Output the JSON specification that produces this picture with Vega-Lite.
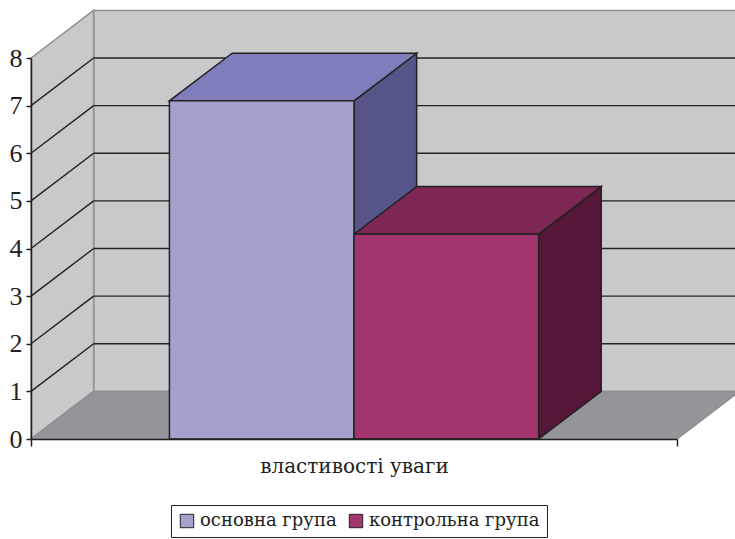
{
  "$schema": "https://vega.github.io/schema/vega-lite/v6.json",
  "width": 646,
  "height": 381,
  "autosize": {"type": "none"},
  "padding": {"left": 31, "top": 58, "right": 58, "bottom": 100},
  "background": "white",
  "datasets": {
    "bars": [
      {"group": "основна група", "value": 7.1},
      {"group": "контрольна група", "value": 4.3}
    ],
    "levels": [
      {"level": 1}, {"level": 2}, {"level": 3}, {"level": 4},
      {"level": 5}, {"level": 6}, {"level": 7}
    ]
  },
  "layer": [
    {
      "description": "back wall",
      "data": {"values": [{}]},
      "mark": {"type": "rect", "fill": "#C8C9CB", "stroke": "#8E8F91", "strokeWidth": 1.5},
      "encoding": {
        "x": {"datum": 0.097, "type": "quantitative", "scale": {"domain": [0, 1], "nice": false}, "title": "властивості уваги"},
        "x2": {"datum": 1.3},
        "y": {"datum": 1, "type": "quantitative", "scale": {"domain": [0, 8], "nice": false}, "title": null},
        "y2": {"datum": 9}
      }
    },
    {
      "description": "left side wall",
      "data": {"values": [{}]},
      "transform": [
        {"calculate": "[0, 1]", "as": "d"},
        {"flatten": ["d"]},
        {"calculate": "datum.d * 0.097", "as": "wx"},
        {"calculate": "8 + datum.d", "as": "wy"},
        {"calculate": "datum.d", "as": "wy2"}
      ],
      "mark": {"type": "area", "orient": "vertical", "fill": "#C8C9CB", "stroke": "#8E8F91", "strokeWidth": 1.5},
      "encoding": {
        "x": {"field": "wx", "type": "quantitative", "scale": {"domain": [0, 1], "nice": false}, "title": "властивості уваги"},
        "y": {"field": "wy", "type": "quantitative", "scale": {"domain": [0, 8], "nice": false}, "title": null},
        "y2": {"field": "wy2", "title": null}
      }
    },
    {
      "description": "floor",
      "data": {"values": [{}]},
      "transform": [
        {"calculate": "[0, 1]", "as": "d"},
        {"flatten": ["d"]},
        {"calculate": "datum.d * 0.097", "as": "fx"},
        {"calculate": "1 + datum.d * 0.097", "as": "fx2"},
        {"calculate": "datum.d", "as": "fy"}
      ],
      "mark": {"type": "area", "orient": "horizontal", "fill": "#949598", "stroke": "#8E8F91", "strokeWidth": 1.5},
      "encoding": {
        "y": {"field": "fy", "type": "quantitative", "scale": {"domain": [0, 8], "nice": false}, "title": null},
        "x": {"field": "fx", "type": "quantitative", "scale": {"domain": [0, 1], "nice": false}, "title": "властивості уваги"},
        "x2": {"field": "fx2", "title": "властивості уваги"}
      }
    },
    {
      "description": "gridlines on the back wall",
      "data": {"name": "levels"},
      "transform": [{"calculate": "datum.level + 1", "as": "yb"}],
      "mark": {"type": "rule", "stroke": "#222", "strokeWidth": 1.4},
      "encoding": {
        "x": {"datum": 0.097, "type": "quantitative", "scale": {"domain": [0, 1], "nice": false}, "title": "властивості уваги"},
        "x2": {"datum": 1.3},
        "y": {"field": "yb", "type": "quantitative", "scale": {"domain": [0, 8], "nice": false}, "title": null}
      }
    },
    {
      "description": "gridlines on the side wall",
      "data": {"name": "levels"},
      "transform": [{"calculate": "datum.level + 1", "as": "yb"}],
      "mark": {"type": "rule", "stroke": "#222", "strokeWidth": 1.4},
      "encoding": {
        "x": {"datum": 0, "type": "quantitative", "scale": {"domain": [0, 1], "nice": false}, "title": "властивості уваги"},
        "x2": {"datum": 0.097},
        "y": {"field": "level", "type": "quantitative", "scale": {"domain": [0, 8], "nice": false}, "title": null},
        "y2": {"field": "yb", "title": null}
      }
    },
    {
      "description": "right-hand faces of the columns",
      "data": {"name": "bars"},
      "transform": [
        {"window": [{"op": "row_number", "as": "i"}]},
        {"calculate": "(datum.i + 0.75) / 3.5", "as": "x1"},
        {"calculate": "[0, 1]", "as": "d"},
        {"flatten": ["d"]},
        {"calculate": "datum.x1 + datum.d * 0.097", "as": "sx"},
        {"calculate": "datum.value + datum.d", "as": "sy"},
        {"calculate": "datum.d", "as": "sy2"}
      ],
      "mark": {"type": "area", "orient": "vertical", "stroke": "#222", "strokeWidth": 1.5, "strokeJoin": "miter"},
      "encoding": {
        "x": {"field": "sx", "type": "quantitative", "scale": {"domain": [0, 1], "nice": false}, "title": "властивості уваги"},
        "y": {"field": "sy", "type": "quantitative", "scale": {"domain": [0, 8], "nice": false}, "title": null},
        "y2": {"field": "sy2", "title": null},
        "detail": {"field": "group"},
        "fill": {"condition": {"test": "datum.group === 'основна група'", "value": "#55558A"}, "value": "#561638"}
      }
    },
    {
      "description": "top faces of the columns",
      "data": {"name": "bars"},
      "transform": [
        {"window": [{"op": "row_number", "as": "i"}]},
        {"calculate": "(datum.i - 0.25) / 3.5", "as": "x0"},
        {"calculate": "(datum.i + 0.75) / 3.5", "as": "x1"},
        {"calculate": "[0, 1]", "as": "d"},
        {"flatten": ["d"]},
        {"calculate": "datum.x0 + datum.d * 0.097", "as": "tx"},
        {"calculate": "datum.x1 + datum.d * 0.097", "as": "tx2"},
        {"calculate": "datum.value + datum.d", "as": "ty"}
      ],
      "mark": {"type": "area", "orient": "horizontal", "stroke": "#222", "strokeWidth": 1.5, "strokeJoin": "miter"},
      "encoding": {
        "y": {"field": "ty", "type": "quantitative", "scale": {"domain": [0, 8], "nice": false}, "title": null},
        "x": {"field": "tx", "type": "quantitative", "scale": {"domain": [0, 1], "nice": false}, "title": "властивості уваги"},
        "x2": {"field": "tx2", "title": "властивості уваги"},
        "detail": {"field": "group"},
        "fill": {"condition": {"test": "datum.group === 'основна група'", "value": "#7F7EBD"}, "value": "#7E2754"}
      }
    },
    {
      "description": "front faces of the columns",
      "data": {"name": "bars"},
      "transform": [
        {"window": [{"op": "row_number", "as": "i"}]},
        {"calculate": "(datum.i - 0.25) / 3.5", "as": "x0"},
        {"calculate": "(datum.i + 0.75) / 3.5", "as": "x1"}
      ],
      "mark": {"type": "rect", "stroke": "#222", "strokeWidth": 1.5},
      "encoding": {
        "x": {
          "field": "x0", "type": "quantitative",
          "scale": {"domain": [0, 1], "nice": false},
          "title": "властивості уваги",
          "axis": {
            "title": "властивості уваги",
            "values": [0, 1],
            "labels": false,
            "grid": false,
            "tickSize": 7,
            "tickWidth": 1.5,
            "tickColor": "#222",
            "domainColor": "#222",
            "domainWidth": 1.5,
            "titleFont": "DejaVu Serif",
            "titleFontSize": 20,
            "titleFontWeight": "normal",
            "titleColor": "#222",
            "titlePadding": 10,
            "zindex": 1
          }
        },
        "x2": {"field": "x1", "title": "властивості уваги"},
        "y": {
          "field": "value", "type": "quantitative",
          "scale": {"domain": [0, 8], "nice": false},
          "title": null,
          "axis": {
            "title": null,
            "values": [0, 1, 2, 3, 4, 5, 6, 7, 8],
            "grid": false,
            "tickSize": 5,
            "tickWidth": 1.5,
            "tickColor": "#222",
            "domainColor": "#222",
            "domainWidth": 1.5,
            "labelFont": "Liberation Serif",
            "labelFontSize": 26,
            "labelColor": "#222",
            "labelPadding": 4,
            "zindex": 1
          }
        },
        "y2": {"datum": 0},
        "fill": {
          "field": "group", "type": "nominal",
          "scale": {"domain": ["основна група", "контрольна група"], "range": ["#A3A1CE", "#A3366F"]},
          "legend": {
            "title": null,
            "orient": "none",
            "legendX": 140,
            "legendY": 447,
            "direction": "horizontal",
            "strokeColor": "#222",
            "fillColor": "white",
            "padding": 7,
            "symbolType": "square",
            "symbolSize": 180,
            "symbolStrokeColor": "#222",
            "symbolStrokeWidth": 1,
            "labelFont": "DejaVu Serif",
            "labelFontSize": 18,
            "labelColor": "#222",
            "labelOffset": 4,
            "labelLimit": 400,
            "columnPadding": 10
          }
        }
      }
    }
  ],
  "config": {"view": {"stroke": null}}
}
